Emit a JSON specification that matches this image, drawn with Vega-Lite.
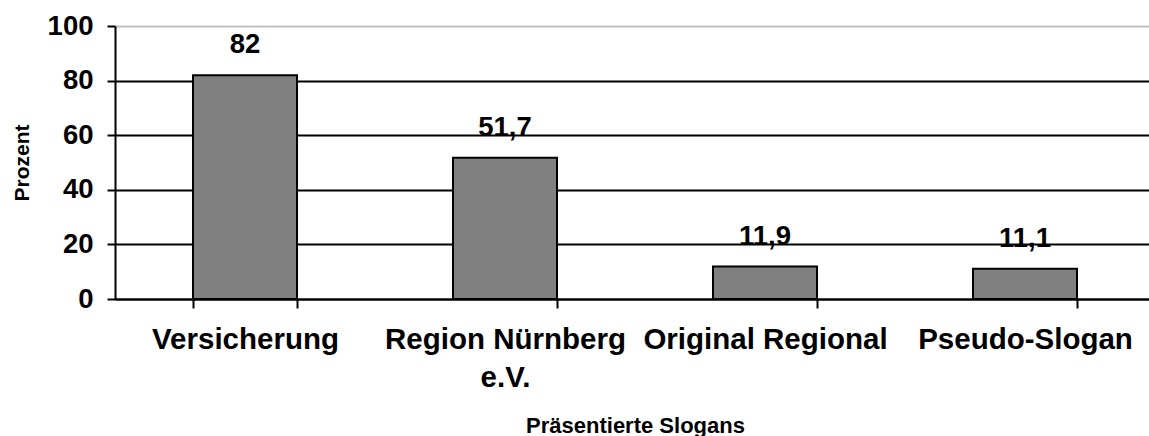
{
  "$schema": "https://vega.github.io/schema/vega-lite/v6.json",
  "width": 1034,
  "height": 273,
  "autosize": {"type": "none"},
  "padding": {"left": 115, "top": 26, "right": 0, "bottom": 137},
  "background": "white",
  "config": {
    "view": {"stroke": null},
    "font": "Liberation Sans",
    "locale": {"number": {"decimal": ",", "thousands": ".", "grouping": [3], "currency": ["", " €"]}}
  },
  "data": {
    "values": [
      {"Slogan": "Versicherung", "Prozent": 82},
      {"Slogan": "Region Nürnberg e.V.", "Prozent": 51.7},
      {"Slogan": "Original Regional", "Prozent": 11.9},
      {"Slogan": "Pseudo-Slogan", "Prozent": 11.1}
    ]
  },
  "encoding": {
    "x": {
      "field": "Slogan",
      "type": "nominal",
      "sort": null,
      "scale": {"range": [0, 1040], "paddingInner": 0.6, "paddingOuter": 0.3},
      "axis": {
        "title": "Präsentierte Slogans",
        "titleFont": "Liberation Sans",
        "titleFontSize": 22,
        "titleFontWeight": "bold",
        "titleColor": "black",
        "titleBaseline": "alphabetic",
        "titleY": 133,
        "labelAngle": 0,
        "labelFont": "Liberation Sans",
        "labelFontSize": 29.5,
        "labelFontWeight": "bold",
        "labelColor": "black",
        "labelBaseline": "top",
        "labelLineHeight": 38,
        "labelPadding": 17,
        "labelLimit": 400,
        "labelExpr": "datum.label == 'Region Nürnberg e.V.' ? ['Region Nürnberg', 'e.V.'] : datum.label",
        "tickBand": "extent",
        "tickSize": 9,
        "tickWidth": 2,
        "tickColor": "black",
        "domainColor": "black",
        "domainWidth": 2,
        "grid": false
      }
    },
    "y": {
      "field": "Prozent",
      "type": "quantitative",
      "scale": {"domain": [0, 100], "nice": false},
      "axis": {
        "title": "Prozent",
        "titleFont": "Liberation Sans",
        "titleFontSize": 21,
        "titleFontWeight": "bold",
        "titleColor": "black",
        "titleBaseline": "alphabetic",
        "titleX": -87,
        "values": [0, 20, 40, 60, 80, 100],
        "labelFont": "Liberation Sans",
        "labelFontSize": 27.5,
        "labelFontWeight": "bold",
        "labelColor": "black",
        "labelPadding": 14,
        "tickSize": 8,
        "tickWidth": 2,
        "tickColor": "black",
        "domainColor": "black",
        "domainWidth": 2,
        "grid": true,
        "gridWidth": 2,
        "gridColor": {"condition": {"test": "datum.value == 100", "value": "#c0c0c0"}, "value": "black"}
      }
    }
  },
  "layer": [
    {
      "mark": {"type": "bar", "fill": "#808080", "stroke": "black", "strokeWidth": 2}
    },
    {
      "mark": {"type": "text", "font": "Liberation Sans", "fontSize": 27.5, "fontWeight": "bold", "color": "black", "baseline": "alphabetic", "dy": -22},
      "encoding": {
        "text": {"field": "Prozent", "type": "quantitative", "format": ".3~r"}
      }
    }
  ]
}
